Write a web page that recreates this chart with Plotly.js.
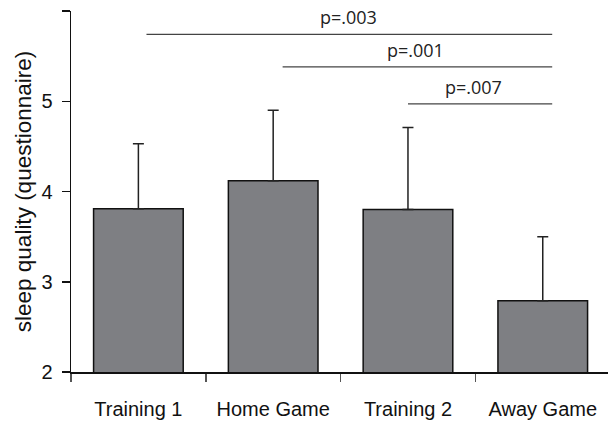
<!DOCTYPE html>
<html>
<head>
<meta charset="utf-8">
<script src="https://cdn.plot.ly/plotly-3.0.1.min.js"></script>
<style>html,body{margin:0;padding:0;background:#fff;}#chart{width:608px;height:423px;}</style>
</head>
<body>
<div id="chart"></div>
<script>
// Data
var categories = ["Training 1", "Home Game", "Training 2", "Away Game"];
var means = [3.81, 4.12, 3.80, 2.79];
var upperBounds = [4.53, 4.90, 4.71, 3.50];
var yTickValues = [2, 3, 4, 5, 6];
var yTickLabels = ["2", "3", "4", "5", ""];
var pLabels = ["p=.003", "p=.001", "p=.007"];
var pFrom = [0.06, 1.07, 2.0];
var pTo = [3.07, 3.07, 3.07];
var pLevel = [5.74, 5.38, 4.97];
var pTextX = [1.56, 2.055, 2.485];

var errPlus = means.map(function (m, i) { return +(upperBounds[i] - m).toFixed(3); });
var errMinus = means.map(function () { return 0; });

var trace = {
  type: "bar",
  x: categories,
  y: means,
  base: 0,
  width: 0.665,
  marker: { color: "#7e7f83", line: { color: "#111", width: 1.5 } },
  error_y: { type: "data", symmetric: false, array: errPlus, arrayminus: errMinus,
             color: "#222", thickness: 1.5, width: 5.5 },
  hoverinfo: "none"
};

var shapes = [];
var annotations = [];
for (var i = 0; i < pLabels.length; i++) {
  shapes.push({ type: "line", xref: "x", yref: "y", x0: pFrom[i], x1: pTo[i],
                y0: pLevel[i], y1: pLevel[i], line: { color: "#444", width: 1.2 } });
  annotations.push({ xref: "x", yref: "y", x: pTextX[i],
                     y: pLevel[i], text: pLabels[i], showarrow: false,
                     yanchor: "bottom", yshift: 3,
                     font: { family: "Open Sans, Noto Sans, sans-serif", size: 18, color: "#222" } });
}

var layout = {
  width: 608, height: 423,
  margin: { l: 71, r: 0, t: 11, b: 51, pad: 0 },
  paper_bgcolor: "#fff", plot_bgcolor: "#fff",
  font: { family: "Liberation Sans, Arial, sans-serif", size: 20, color: "#111" },
  showlegend: false,
  xaxis: {
    type: "category", range: [-0.5, 3.484], tickson: "boundaries",
    ticks: "outside", ticklen: 8, tickcolor: "#555", tickwidth: 1.5,
    showline: true, linecolor: "#111", linewidth: 1.5, showgrid: false, zeroline: false,
    tickfont: { size: 20 }, ticklabelstandoff: 18
  },
  yaxis: {
    range: [2, 6], tickmode: "array", tickvals: yTickValues, ticktext: yTickLabels,
    ticks: "outside", ticklen: 8, tickcolor: "#111", tickwidth: 1.5,
    showline: true, linecolor: "#111", linewidth: 1.5, showgrid: false, zeroline: false,
    tickfont: { size: 20 }, ticklabelstandoff: 5,
    title: { text: "sleep quality (questionnaire)", font: { size: 22.5 }, standoff: 3 }
  },
  shapes: shapes,
  annotations: annotations
};

Plotly.newPlot("chart", [trace], layout, { displayModeBar: false, staticPlot: true });
</script>
</body>
</html>
